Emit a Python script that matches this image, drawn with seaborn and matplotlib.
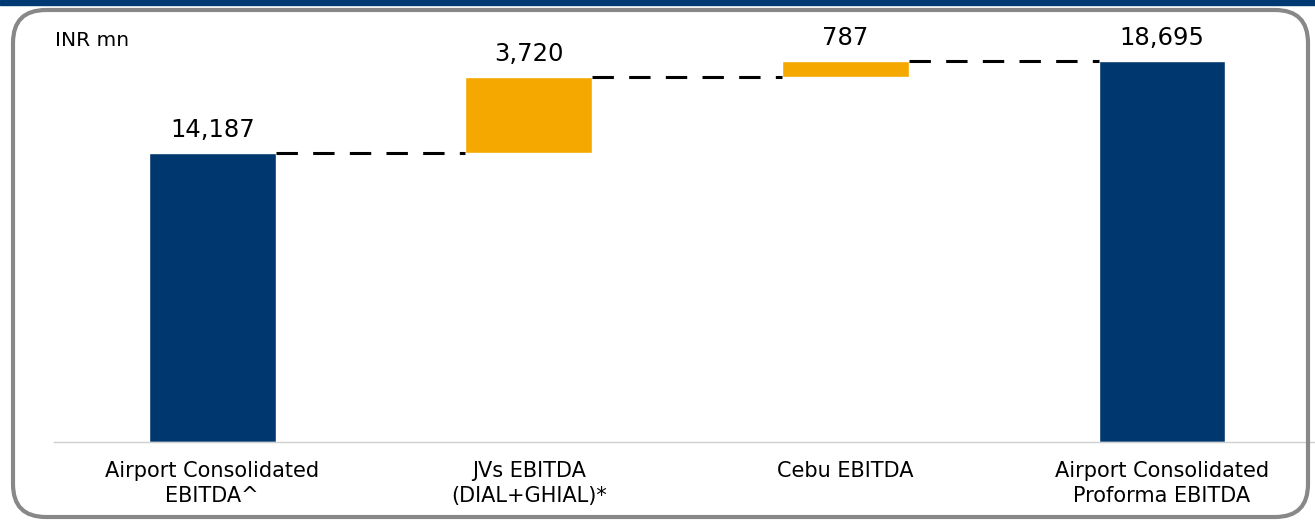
import matplotlib
matplotlib.use("Agg")
import matplotlib.pyplot as plt
import seaborn as sns
import pandas as pd
from matplotlib.patches import FancyBboxPatch, Rectangle

categories = ["Airport Consolidated\nEBITDA^", "JVs EBITDA\n(DIAL+GHIAL)*",
              "Cebu EBITDA", "Airport Consolidated\nProforma EBITDA"]
values = [14187, 3720, 787, 18695]
kinds = ["total", "step", "step", "total"]
value_labels = ["14,187", "3,720", "787", "18,695"]

# bottoms of the floating steps
bottoms = []
running = 0
for v, k in zip(values, kinds):
    if k == "total":
        bottoms.append(0)
        running = v
    else:
        bottoms.append(running)
        running += v

df = pd.DataFrame({"cat": categories, "val": values, "kind": kinds, "bottom": bottoms})

navy = "#00376F"
orange = "#F5A800"

sns.set_style("white")
plt.rcParams["font.family"] = ["DejaVu Sans"]

W, H = 1315, 521
fig = plt.figure(figsize=(W / 100, H / 100), dpi=100)
ax = fig.add_axes([54 / W, 1 - 442 / H, (W - 54) / W, 407.4 / H])

for kind, col in [("total", navy), ("step", orange)]:
    sub = df[df["kind"] == kind]
    sns.barplot(data=sub, x="cat", y="val", order=categories, color=col,
                bottom=sub["bottom"].values, width=0.4, ax=ax, saturation=1,
                errorbar=None)

ax.set_xlim(-0.5, 3.484)
ax.set_ylim(0, 20000)

# connectors
tops = [b + v for b, v in zip(bottoms, values)]
for i in range(len(values) - 1):
    ax.plot([i + 0.2, i + 0.8], [tops[i], tops[i]], color="black", lw=2.2,
            dashes=(7, 5), solid_capstyle="butt", dash_capstyle="butt")

for i, (t, lab) in enumerate(zip(tops, value_labels)):
    ax.annotate(lab, (i, t), xytext=(0, 8), textcoords="offset points",
                ha="center", va="bottom", fontsize=17.5, color="black")

ax.set_xlabel("")
ax.set_ylabel("")
ax.set_yticks([])
ax.tick_params(axis="x", length=0, labelsize=15, pad=14, labelcolor="black")
for lbl in ax.get_xticklabels():
    lbl.set_linespacing(1.3)
for s in ["top", "left", "right"]:
    ax.spines[s].set_visible(False)
ax.spines["bottom"].set_color("#d0d0d0")
ax.spines["bottom"].set_linewidth(1)

fig.text(55 / W, 1 - 40 / H, "INR mn", fontsize=14.5, va="center", ha="left",
         color="black")

# frame decorations
fig.patches.append(Rectangle((0, 1 - 5 / H), 1, 5 / H, transform=fig.transFigure,
                             color="#003A75", zorder=0))
fig.patches.append(FancyBboxPatch((13 / W, 4 / H), (1308 - 13) / W, (511 - 4) / H,
                                  boxstyle="round,pad=0,rounding_size=0.025",
                                  transform=fig.transFigure, fill=False,
                                  edgecolor="#888888", lw=3, zorder=0,
                                  mutation_aspect=W / H))

fig.savefig("out.png", dpi=100)
